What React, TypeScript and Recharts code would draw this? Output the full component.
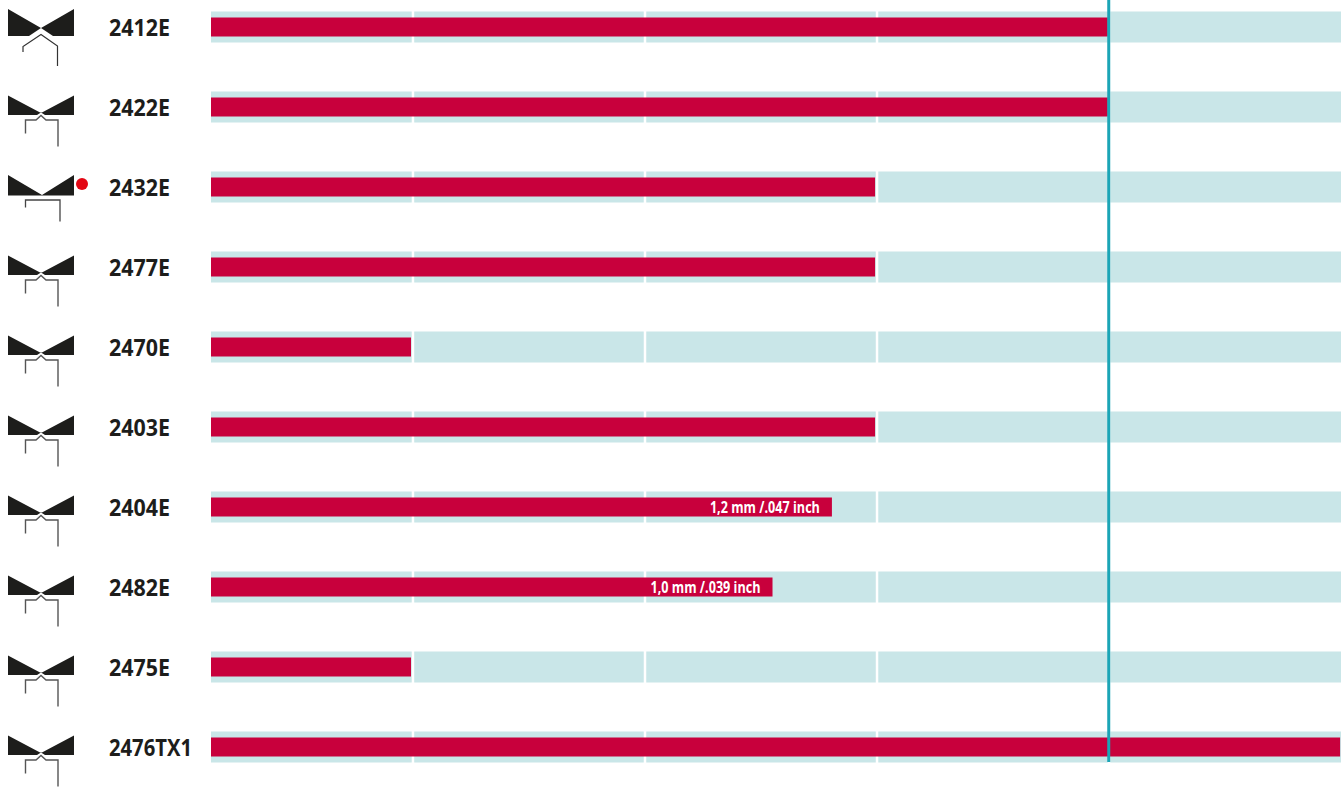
import React from 'react';
import { BarChart, Bar, XAxis, YAxis, ReferenceLine, LabelList } from 'recharts';

const categories = ['2412E', '2422E', '2432E', '2477E', '2470E', '2403E', '2404E', '2482E', '2475E', '2476TX1'];
// reach of each bar, in grid cells (the first cell is a bit narrower than the rest)
const reach = [3.865, 3.865, 2.862, 2.862, 0.862, 2.862, 2.676, 2.42, 0.862, 4.866];
const notes = ['', '', '', '', '', '', '1,2 mm /.047 inch', '1,0 mm /.039 inch', '', ''];
const iconKinds = ['open', 'bracket', 'flat', 'bracket', 'bracket', 'bracket', 'bracket', 'bracket', 'bracket', 'bracket'];
const cellWidths = [0.865, 1, 1, 1, 1.005];
const limit = 3.869;
const axisMax = 4.87;

const RED = '#c8003c';
const BAND = '#c9e6e8';
const TEAL = '#1ba5b6';
const INK = '#1d1d1b';
const LABEL_FONT = '"Open Sans", sans-serif';

const rows = categories.map((name, i) => {
  const row: any = { name, value: reach[i], note: notes[i] };
  cellWidths.forEach((w, c) => { row[`cell${c}`] = w; });
  return row;
});

// Teal cell with a small white gap on its left edge
const CellShape = (props: any) => {
  const gap = props.dataKey === 'cell0' ? 0 : 2.5;
  return <rect x={props.x + gap} y={props.y} width={props.width - gap} height={props.height} fill={BAND} />;
};

const Icon = ({ kind }: { kind: string }) => {
  if (kind === 'open') {
    return (
      <g>
        <path d="M8 -17.5 L41 1.5 L74 -17.5 L74 9.5 L53 9.5 L41 1.5 L29 9.5 L8 9.5 Z" fill={INK} />
        <path d="M23 25.5 V20 L41 8 L57.5 19.5 V39.5" fill="none" stroke="#333" strokeWidth={1.2} />
      </g>
    );
  }
  if (kind === 'flat') {
    return (
      <g>
        <path d="M8 -11.5 L42 8.5 L74 -11.5 L74 9 L8 9 Z" fill={INK} />
        <path d="M25.5 21 V13.5 H60 V35" fill="none" stroke="#444" strokeWidth={1.3} />
        <circle cx={82} cy={-2.5} r={6} fill="#e30613" />
      </g>
    );
  }
  return (
    <g>
      <path d="M8 -11 L41 6.5 L74 -11 L74 8.5 L45 8.5 L41 6 L37 8.5 L8 8.5 Z" fill={INK} />
      <path d="M25.5 27 V13.5 H36 L41 9 L46 13.5 H58 V40" fill="none" stroke="#555" strokeWidth={1.4} />
    </g>
  );
};

const RowTick = (props: any) => {
  const { y, payload, index } = props;
  return (
    <g transform={`translate(0,${y})`}>
      <Icon kind={iconKinds[index]} />
      <text
        x={109}
        y={9.5}
        fontFamily={LABEL_FONT}
        fontWeight={700}
        fontSize={24}
        fill={INK}
        textLength={payload.value.length > 5 ? 83 : 61}
        lengthAdjust="spacingAndGlyphs"
      >
        {payload.value}
      </text>
    </g>
  );
};

// Thin label squeezed to the condensed width of the original
const NoteLabel = (props: any) => {
  const { x, y, width, height, value } = props;
  if (!value) return null;
  return (
    <text
      x={x + width - 122}
      y={y + height / 2 + 5.5}
      fontFamily={LABEL_FONT}
      fontWeight={700}
      fontSize={16}
      fill="#ffffff"
      textLength={110}
      lengthAdjust="spacingAndGlyphs"
    >
      {value}
    </text>
  );
};

const LimitLine = (props: any) => (
  <line x1={props.x1} x2={props.x2} y1={0} y2={762} stroke={TEAL} strokeWidth={3} />
);

export default function App() {
  return (
    <div>
      <style>{'body{margin:0}'}</style>
      <BarChart
        layout="vertical"
        width={1341}
        height={787}
        data={rows}
        margin={{ top: -13.5, right: 0, bottom: 0.5, left: 0 }}
      >
        <XAxis type="number" domain={[0, axisMax]} hide />
        <YAxis
          yAxisId="main"
          type="category"
          dataKey="name"
          width={211}
          interval={0}
          axisLine={false}
          tickLine={false}
          tick={<RowTick />}
        />
        <YAxis yAxisId="band" type="category" dataKey="name" hide />
        {cellWidths.map((_, c) => (
          <Bar
            key={c}
            yAxisId="band"
            dataKey={`cell${c}`}
            stackId="cells"
            barSize={31}
            fill={BAND}
            shape={<CellShape dataKey={`cell${c}`} />}
            isAnimationActive={false}
          />
        ))}
        <Bar yAxisId="main" dataKey="value" barSize={19} fill={RED} isAnimationActive={false}>
          <LabelList dataKey="note" content={<NoteLabel />} />
        </Bar>
        <ReferenceLine yAxisId="main" x={limit} shape={<LimitLine />} />
      </BarChart>
    </div>
  );
}
